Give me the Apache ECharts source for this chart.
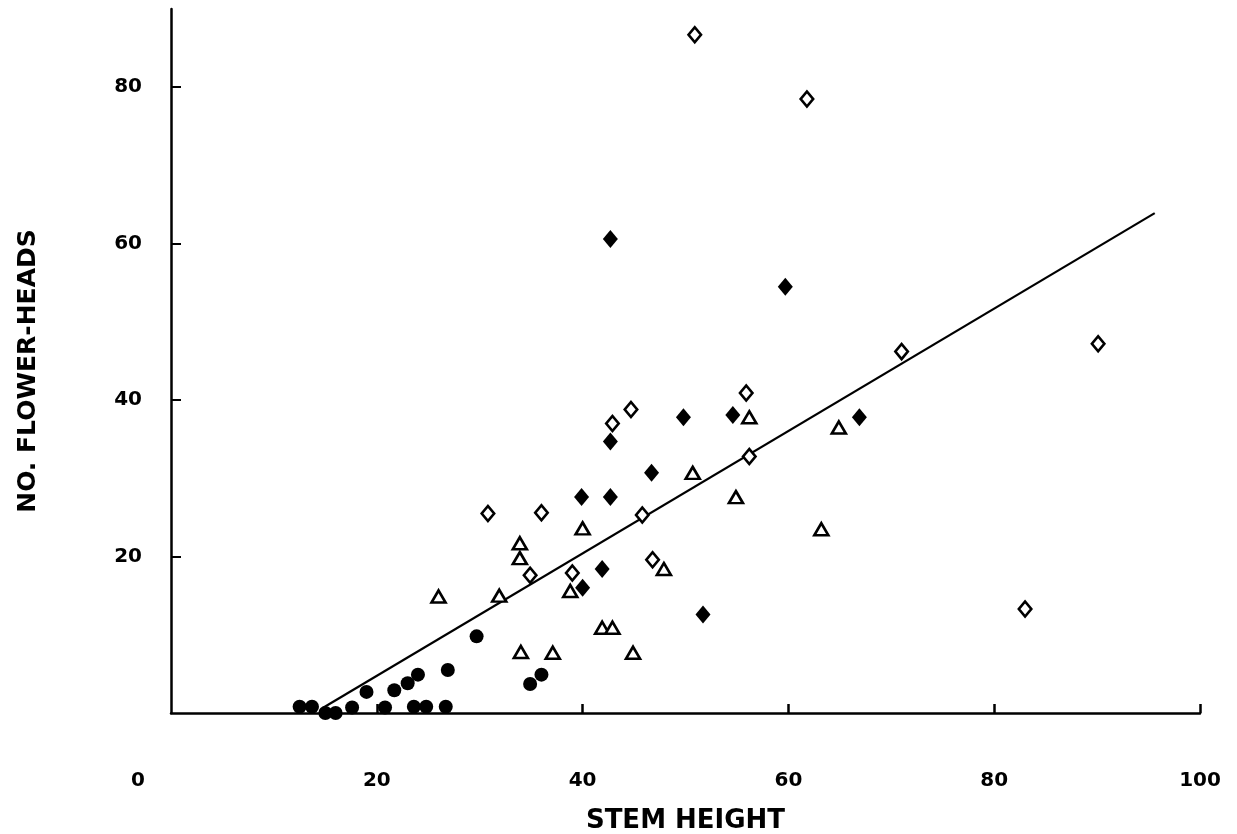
<!DOCTYPE html>
<html>
<head>
<meta charset="utf-8">
<script src="https://cdn.jsdelivr.net/npm/echarts@6/dist/echarts.min.js"></script>
<style>
html,body{margin:0;padding:0;background:#fff;}
#chart{width:1237px;height:834px;}
</style>
</head>
<body>
<div id="chart"></div>
<script>
// ---- data ----
var xTickValues = [20, 40, 60, 80, 100];
var xLabelValues = [0, 20, 40, 60, 80, 100];
var yTickValues = [20, 40, 60, 80];

// filled circles
var circleX = [12.5, 13.7, 15.0, 16.0, 17.6, 19.0, 20.8, 21.7, 23.0, 24.0, 23.6, 24.8, 26.7, 26.9, 29.7, 34.9, 36.0];
var circleY = [0.8, 0.8, 0, 0, 0.7, 2.7, 0.7, 2.9, 3.8, 4.9, 0.8, 0.8, 0.8, 5.5, 9.8, 3.7, 4.9];

// open triangles
var triX = [26.0, 31.9, 33.9, 33.9, 34.0, 37.1, 38.8, 40.0, 41.9, 42.9, 44.9, 47.9, 50.7, 54.9, 56.2, 63.2, 64.9];
var triY = [14.9, 15.0, 21.7, 19.8, 7.8, 7.7, 15.6, 23.6, 10.9, 10.9, 7.7, 18.4, 30.7, 27.6, 37.8, 23.5, 36.5];

// open diamonds
var openDiaX = [30.8, 36.0, 34.9, 39.0, 42.9, 44.7, 45.8, 46.8, 50.9, 55.9, 56.2, 61.8, 71.0, 83.0, 90.1];
var openDiaY = [25.5, 25.6, 17.6, 17.9, 37.0, 38.8, 25.3, 19.6, 86.7, 40.9, 32.8, 78.5, 46.2, 13.3, 47.2];

// filled diamonds
var fillDiaX = [42.7, 59.7, 49.8, 54.6, 66.9, 42.7, 46.7, 39.9, 42.7, 41.9, 40.0, 51.7];
var fillDiaY = [60.6, 54.5, 37.8, 38.1, 37.8, 34.7, 30.7, 27.6, 27.6, 18.4, 16.0, 12.6];

// regression line end points
var lineX = [14.7, 95.6];
var lineY = [0.6, 63.9];

function zip(xs, ys) { return xs.map(function (x, i) { return [x, ys[i]]; }); }

var FONT = 'DejaVu Sans';
var chart = echarts.init(document.getElementById('chart'), null, { renderer: 'canvas' });

chart.setOption({
  backgroundColor: '#ffffff',
  animation: false,
  grid: { left: 171, right: 37, top: 9, bottom: 121, containLabel: false, outerBoundsMode: 'none' },
  xAxis: {
    type: 'value', min: 0, max: 100, interval: 20,
    name: 'STEM HEIGHT', nameLocation: 'middle', nameGap: 95,
    nameTextStyle: { fontFamily: FONT, fontWeight: 'bold', fontSize: 26, color: '#000' },
    axisLine: { show: true, onZero: false, lineStyle: { color: '#000', width: 2.5 } },
    axisTick: { show: true, inside: true, length: 9, customValues: xTickValues, lineStyle: { color: '#000', width: 2.5 } },
    axisLabel: {
      show: true, margin: 58, customValues: xLabelValues,
      fontFamily: FONT, fontWeight: 'bold', fontSize: 20, color: '#000',
      formatter: function (v) { return v === 0 ? '{z|0}' : String(v); },
      rich: { z: { fontFamily: FONT, fontWeight: 'bold', fontSize: 20, color: '#000', padding: [0, 66, 0, 0] } }
    },
    splitLine: { show: false }
  },
  yAxis: {
    type: 'value', min: 0, max: 90, interval: 20,
    name: 'NO. FLOWER-HEADS', nameLocation: 'middle', nameGap: 130, nameRotate: 90,
    nameTextStyle: { fontFamily: FONT, fontWeight: 'bold', fontSize: 25, color: '#000', padding: [0, 20, 0, 0] },
    axisLine: { show: true, onZero: false, lineStyle: { color: '#000', width: 2.5 } },
    axisTick: { show: true, inside: true, length: 10, customValues: yTickValues, lineStyle: { color: '#000', width: 2 } },
    axisLabel: {
      show: true, margin: 29, customValues: yTickValues,
      fontFamily: FONT, fontWeight: 'bold', fontSize: 20, color: '#000'
    },
    splitLine: { show: false }
  },
  series: [
    {
      name: 'line', type: 'line', data: zip(lineX, lineY), symbol: 'none',
      lineStyle: { color: '#000', width: 2.2 }, z: 1, silent: true
    },
    {
      name: 'circles', type: 'scatter', data: zip(circleX, circleY), symbol: 'circle', symbolSize: 14,
      itemStyle: { color: '#000', opacity: 1 }, z: 3
    },
    {
      name: 'triangles', type: 'scatter', data: zip(triX, triY), symbol: 'triangle', symbolSize: [14, 12],
      itemStyle: { color: '#fff', borderColor: '#000', borderWidth: 2.6, opacity: 1 }, z: 3
    },
    {
      name: 'open diamonds', type: 'scatter', data: zip(openDiaX, openDiaY), symbol: 'diamond', symbolSize: [12.5, 15],
      itemStyle: { color: '#fff', borderColor: '#000', borderWidth: 2.6, opacity: 1 }, z: 3
    },
    {
      name: 'filled diamonds', type: 'scatter', data: zip(fillDiaX, fillDiaY), symbol: 'diamond', symbolSize: [15, 18],
      itemStyle: { color: '#000', opacity: 1 }, z: 4
    }
  ]
});
</script>
</body>
</html>
